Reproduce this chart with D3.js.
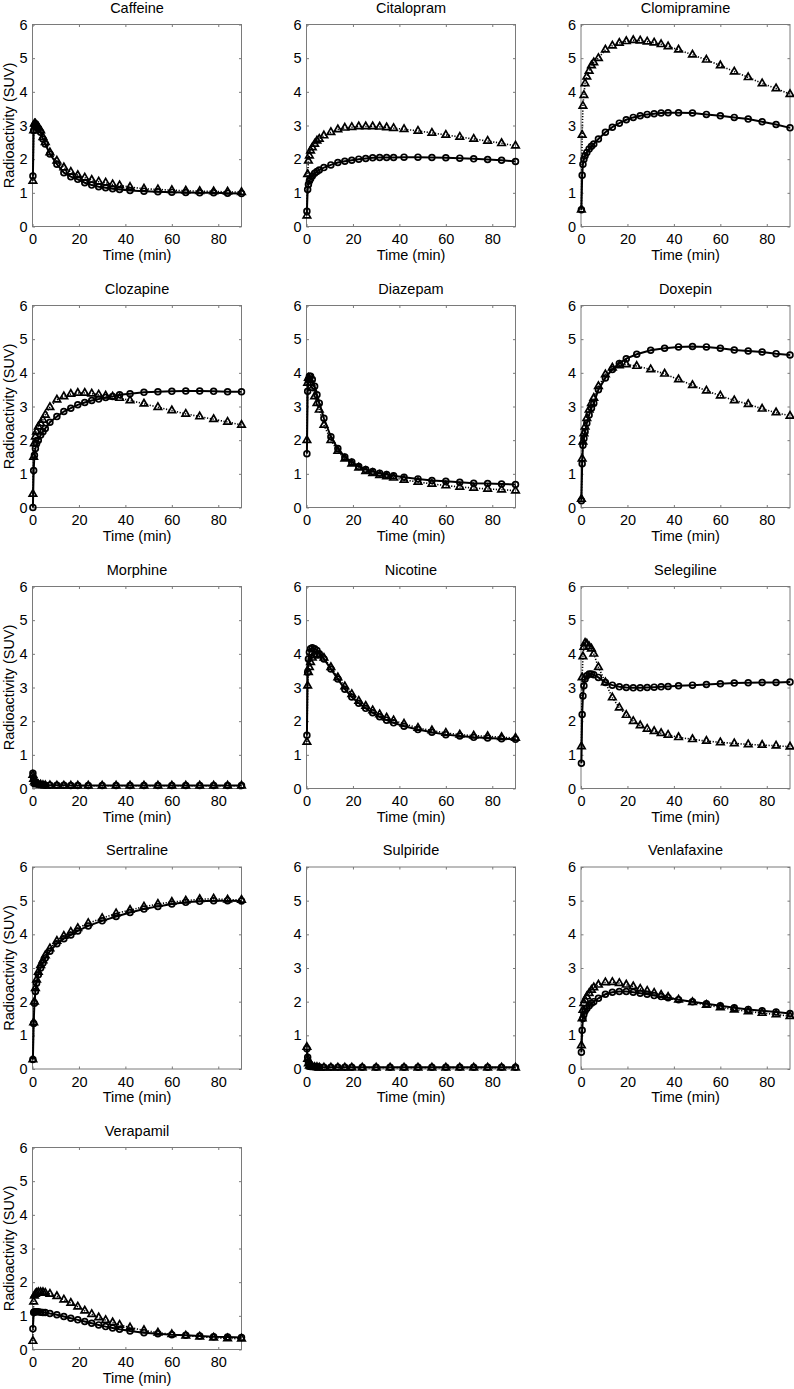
<!DOCTYPE html>
<html><head><meta charset="utf-8">
<script src="https://cdn.jsdelivr.net/npm/d3@7"></script>
<style>body{margin:0;background:#fff}svg{display:block}</style>
</head><body>
<svg id="c" width="794" height="1389"></svg>
<script>
// ---------- data ----------
const drugNames = ["Caffeine","Citalopram","Clomipramine","Clozapine","Diazepam","Doxepin","Morphine","Nicotine","Selegiline","Sertraline","Sulpiride","Venlafaxine","Verapamil"];
const xTicks = [0,20,40,60,80];
const yTicks = [0,1,2,3,4,5,6];
const timesA = [0.17,0.5,0.83,1.25,1.75,2.5,3.5,4.5,5.5,7.5,10.5,13.5,16.5,19.5,22.5,25.5,28.5,31.5,34.5,37.5,42,48,54,60,66,72,78,84,90];
const timesB = [0.17,0.5,0.83,1.25,1.75,2.5,3.5,4.5,5.5,7.5,10.5,13.5,16.5,19.5,24,30,36,42,48,54,60,66,72,78,84,90];

const caffeineO = [1.5,2.85,3.0,3.05,3.0,2.9,2.8,2.6,2.45,2.15,1.85,1.6,1.48,1.4,1.3,1.23,1.18,1.15,1.12,1.1,1.07,1.05,1.03,1.02,1.01,1.0,1.0,0.99,0.98];
const caffeineT = [1.35,2.85,3.05,3.05,3.0,2.95,2.85,2.65,2.5,2.2,1.95,1.75,1.62,1.52,1.45,1.38,1.33,1.3,1.25,1.22,1.17,1.12,1.1,1.08,1.06,1.05,1.04,1.03,1.02];
const citalopramO = [0.45,1.1,1.25,1.35,1.42,1.5,1.58,1.63,1.68,1.75,1.83,1.9,1.94,1.97,2.0,2.02,2.04,2.05,2.05,2.05,2.06,2.06,2.05,2.04,2.03,2.01,1.99,1.97,1.93];
const citalopramT = [0.32,1.55,1.95,2.1,2.25,2.35,2.45,2.55,2.6,2.7,2.8,2.88,2.93,2.95,2.97,2.97,2.97,2.96,2.94,2.92,2.89,2.84,2.78,2.72,2.66,2.6,2.54,2.47,2.4];
const clomipramineO = [0.5,1.52,1.85,2.0,2.1,2.2,2.3,2.38,2.45,2.6,2.8,2.95,3.07,3.17,3.24,3.29,3.33,3.35,3.37,3.38,3.38,3.37,3.33,3.29,3.24,3.19,3.11,3.03,2.93];
const clomipramineT = [0.5,2.72,3.58,3.9,4.25,4.45,4.62,4.78,4.87,5.0,5.25,5.37,5.45,5.5,5.53,5.52,5.49,5.46,5.41,5.35,5.25,5.1,4.95,4.78,4.6,4.43,4.25,4.1,3.93];
const clozapineO = [0.0,1.1,1.55,1.75,1.9,2.0,2.15,2.25,2.35,2.53,2.7,2.85,2.95,3.05,3.12,3.18,3.22,3.27,3.3,3.35,3.38,3.42,3.44,3.45,3.46,3.46,3.45,3.44,3.44];
const clozapineT = [0.4,1.5,1.9,2.1,2.25,2.4,2.5,2.6,2.75,2.98,3.2,3.3,3.37,3.4,3.4,3.38,3.35,3.32,3.29,3.25,3.18,3.08,2.98,2.88,2.78,2.7,2.62,2.54,2.45];
const diazepamO = [1.6,3.45,3.8,3.9,3.9,3.8,3.6,3.35,3.1,2.65,2.1,1.75,1.5,1.35,1.22,1.13,1.07,1.02,0.98,0.94,0.9,0.85,0.8,0.78,0.75,0.72,0.71,0.7,0.68];
const diazepamT = [2.0,3.7,3.85,3.8,3.7,3.55,3.3,3.1,2.9,2.45,2.0,1.68,1.45,1.3,1.18,1.08,1.02,0.96,0.92,0.88,0.82,0.76,0.7,0.65,0.61,0.58,0.55,0.53,0.5];
const doxepinO = [0.2,1.3,1.85,2.05,2.25,2.5,2.75,2.95,3.1,3.5,3.85,4.1,4.28,4.42,4.55,4.67,4.73,4.77,4.78,4.77,4.73,4.68,4.65,4.62,4.57,4.53];
const doxepinT = [0.25,1.45,1.95,2.2,2.4,2.65,2.9,3.1,3.25,3.6,3.95,4.15,4.22,4.25,4.2,4.1,3.97,3.8,3.63,3.47,3.32,3.18,3.07,2.93,2.82,2.72];
const morphineO = [0.45,0.3,0.22,0.18,0.15,0.13,0.12,0.11,0.1,0.1,0.1,0.1,0.09,0.09,0.09,0.09,0.09,0.09,0.09,0.09,0.09,0.09,0.09,0.09,0.09,0.09];
const morphineT = [0.4,0.28,0.2,0.16,0.13,0.12,0.11,0.1,0.09,0.09,0.08,0.08,0.08,0.08,0.08,0.08,0.08,0.08,0.08,0.08,0.08,0.08,0.08,0.08,0.08,0.08];
const nicotineO = [1.58,3.45,3.85,4.05,4.15,4.18,4.15,4.1,4.0,3.85,3.55,3.25,2.95,2.72,2.53,2.38,2.25,2.13,2.03,1.95,1.85,1.75,1.67,1.6,1.56,1.52,1.5,1.48,1.46];
const nicotineT = [1.38,3.05,3.45,3.6,3.75,3.88,3.95,3.98,3.95,3.88,3.6,3.3,3.03,2.8,2.6,2.45,2.32,2.2,2.1,2.02,1.92,1.8,1.72,1.65,1.6,1.57,1.55,1.52,1.5];
const selegilineO = [0.75,2.2,2.75,3.05,3.25,3.35,3.4,3.4,3.38,3.3,3.15,3.07,3.02,3.0,2.99,2.99,3.0,3.01,3.02,3.03,3.05,3.07,3.09,3.11,3.13,3.14,3.15,3.15,3.16];
const selegilineT = [1.25,3.3,3.92,4.2,4.32,4.3,4.22,4.15,4.0,3.6,3.15,2.7,2.4,2.18,2.0,1.87,1.77,1.7,1.64,1.59,1.52,1.46,1.41,1.37,1.34,1.31,1.29,1.27,1.24];
const sertralineO = [0.28,1.35,1.95,2.3,2.55,2.8,3.0,3.15,3.3,3.5,3.72,3.87,3.98,4.1,4.25,4.4,4.53,4.65,4.75,4.83,4.9,4.95,4.98,5.0,5.0,4.99];
const sertralineT = [0.28,1.38,2.0,2.4,2.65,2.88,3.08,3.22,3.37,3.58,3.8,3.95,4.07,4.18,4.33,4.48,4.62,4.72,4.82,4.9,4.96,5.0,5.04,5.06,5.03,5.02];
const sulpirideO = [0.6,0.35,0.2,0.13,0.1,0.08,0.07,0.06,0.06,0.05,0.05,0.05,0.05,0.05,0.05,0.05,0.05,0.05,0.05,0.05,0.05,0.05,0.05,0.05,0.05,0.05];
const sulpirideT = [0.65,0.3,0.16,0.1,0.08,0.06,0.05,0.05,0.04,0.04,0.04,0.04,0.04,0.04,0.04,0.04,0.04,0.04,0.04,0.04,0.04,0.04,0.04,0.04,0.04,0.04];
const venlafaxineO = [0.5,1.15,1.5,1.62,1.72,1.8,1.88,1.95,2.0,2.1,2.22,2.28,2.3,2.3,2.28,2.25,2.22,2.18,2.15,2.12,2.06,2.0,1.94,1.88,1.82,1.77,1.73,1.69,1.65];
const venlafaxineT = [0.7,1.5,1.75,1.95,2.05,2.15,2.25,2.35,2.42,2.5,2.57,2.58,2.55,2.5,2.45,2.38,2.32,2.26,2.2,2.14,2.06,1.98,1.9,1.83,1.76,1.71,1.66,1.62,1.57];
const verapamilO = [0.62,1.1,1.12,1.12,1.12,1.12,1.11,1.1,1.1,1.07,1.03,0.98,0.93,0.88,0.83,0.78,0.73,0.68,0.64,0.6,0.55,0.5,0.47,0.44,0.42,0.4,0.38,0.37,0.36];
const verapamilT = [0.25,1.42,1.6,1.65,1.68,1.7,1.7,1.7,1.68,1.65,1.58,1.48,1.38,1.27,1.15,1.05,0.95,0.87,0.8,0.73,0.65,0.57,0.5,0.45,0.41,0.38,0.35,0.33,0.32];

const panels = [
  {t: timesA, o: caffeineO, tr: caffeineT},
  {t: timesA, o: citalopramO, tr: citalopramT},
  {t: timesA, o: clomipramineO, tr: clomipramineT},
  {t: timesA, o: clozapineO, tr: clozapineT},
  {t: timesA, o: diazepamO, tr: diazepamT},
  {t: timesB, o: doxepinO, tr: doxepinT},
  {t: timesB, o: morphineO, tr: morphineT},
  {t: timesA, o: nicotineO, tr: nicotineT},
  {t: timesA, o: selegilineO, tr: selegilineT},
  {t: timesB, o: sertralineO, tr: sertralineT},
  {t: timesB, o: sulpirideO, tr: sulpirideT},
  {t: timesA, o: venlafaxineO, tr: venlafaxineT},
  {t: timesA, o: verapamilO, tr: verapamilT}
];

// ---------- layout ----------
const colLeft = [32.5, 306.5, 581];
const rowTop = [24.5, 305.5, 586.5, 867, 1147.5];
const W = 209, H = 202;
const FONT = "'Liberation Sans', Arial, Helvetica, sans-serif";
const svg = d3.select("#c");
const fmt = d3.format("d");

panels.forEach((p, i) => {
  const col = i % 3, row = Math.floor(i / 3);
  const g = svg.append("g").attr("transform", `translate(${colLeft[col]},${rowTop[row]})`);
  const x = d3.scaleLinear().domain([0, 90]).range([0, W]);
  const y = d3.scaleLinear().domain([0, 6]).range([H, 0]);

  const gx = g.append("g").attr("transform", `translate(0,${H})`)
    .call(d3.axisBottom(x).tickValues(xTicks).tickFormat(fmt).tickSizeInner(-2.5).tickSizeOuter(0).tickPadding(6));
  const gxt = g.append("g").call(d3.axisTop(x).tickValues(xTicks).tickSizeInner(-2.5).tickSizeOuter(0).tickFormat(""));
  const gy = g.append("g").call(d3.axisLeft(y).tickValues(yTicks).tickFormat(fmt).tickSizeInner(-2.5).tickSizeOuter(0).tickPadding(5));
  const gyr = g.append("g").attr("transform", `translate(${W},0)`).call(d3.axisRight(y).tickValues(yTicks).tickSizeInner(-2.5).tickSizeOuter(0).tickFormat(""));
  [gx, gxt, gy, gyr].forEach(a => {
    a.select(".domain").remove();
    a.selectAll("line").attr("stroke", "#7a7a7a");
    a.selectAll("text").attr("font-family", FONT).attr("font-size", 14.5).attr("fill", "#000");
  });
  gx.selectAll("text").attr("dy", "0.8em");

  g.append("rect").attr("x", 0).attr("y", 0).attr("width", W).attr("height", H)
    .attr("fill", "none").attr("stroke", "#7a7a7a").attr("stroke-width", 1);

  g.append("text").attr("x", W / 2).attr("y", -12).attr("text-anchor", "middle")
    .attr("font-family", FONT).attr("font-size", 14.5).text(drugNames[i]);
  g.append("text").attr("x", W / 2).attr("y", H + 33).attr("text-anchor", "middle")
    .attr("font-family", FONT).attr("font-size", 14.5).text("Time (min)");
  if (col === 0) {
    g.append("text").attr("transform", `translate(${-19},${H / 2}) rotate(-90)`)
      .attr("text-anchor", "middle").attr("font-family", FONT).attr("font-size", 14.5)
      .text("Radioactivity (SUV)");
  }

  const line = d3.line().x(d => x(d[0])).y(d => y(d[1]));
  const ptsO = p.t.map((t, k) => [t, p.o[k]]);
  const ptsT = p.t.map((t, k) => [t, p.tr[k]]);

  g.append("path").datum(ptsT).attr("d", line).attr("fill", "none")
    .attr("stroke", "#000").attr("stroke-width", 1.6).attr("stroke-dasharray", "1.2,1.6");
  const tri = d3.symbol().type(d3.symbolTriangle).size(24);
  g.selectAll(".tri").data(ptsT).join("path").attr("class", "tri")
    .attr("transform", d => `translate(${x(d[0])},${y(d[1])})`)
    .attr("d", tri).attr("fill", "none").attr("stroke", "#000").attr("stroke-width", 1.7);

  g.append("path").datum(ptsO).attr("d", line).attr("fill", "none")
    .attr("stroke", "#000").attr("stroke-width", 2);
  g.selectAll(".cir").data(ptsO).join("circle").attr("class", "cir")
    .attr("cx", d => x(d[0])).attr("cy", d => y(d[1])).attr("r", 2.9)
    .attr("fill", "none").attr("stroke", "#000").attr("stroke-width", 1.7);
});
</script>
</body></html>
